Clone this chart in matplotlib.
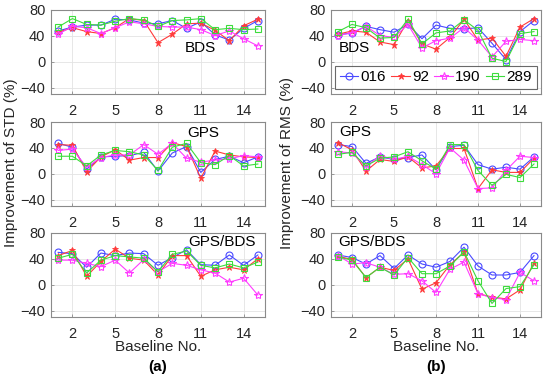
import matplotlib
matplotlib.use("Agg")
import matplotlib.pyplot as plt

plt.rcParams['font.family'] = ['Liberation Sans', 'DejaVu Sans']

baselines = list(range(1, 16))
series_names = ['016', '92', '190', '289']

# STD improvement (a)
std_bds_016 = [47, 53, 56, 56, 65, 64, 59, 58, 63, 51, 61, 41, 33, 51, 63]
std_bds_92 = [45, 52, 46, 43, 52, 66, 63, 29, 42, 58, 59, 48, 32, 55, 65]
std_bds_190 = [42, 54, 52, 43, 52, 61, 58, 54, 53, 53, 49, 40, 47, 35, 24]
std_bds_289 = [53, 66, 57, 56, 62, 66, 64, 54, 63, 64, 66, 49, 51, 49, 50]

std_gps_016 = [47, 41, 7, 26, 27, 28, 33, 4, 32, 42, 2, 22, 27, 17, 26]
std_gps_92 = [45, 44, 3, 26, 37, 21, 25, 25, 48, 42, -7, 35, 29, 26, 25]
std_gps_190 = [36, 38, 10, 25, 29, 29, 45, 30, 47, 24, 18, 21, 23, 28, 26]
std_gps_289 = [27, 27, 12, 29, 36, 34, 29, 5, 41, 47, 17, 14, 28, 12, 15]

std_gb_016 = [50, 48, 27, 49, 45, 49, 48, 30, 42, 54, 31, 30, 46, 30, 46]
std_gb_92 = [45, 53, 13, 36, 55, 41, 38, 15, 45, 45, 13, 23, 27, 23, 40]
std_gb_190 = [38, 38, 33, 28, 38, 18, 39, 20, 33, 30, 23, 18, 4, 10, -16]
std_gb_289 = [41, 47, 18, 38, 45, 43, 41, 20, 47, 52, 30, 26, 32, 26, 35]

# RMS improvement (b)
rms_bds_016 = [41, 44, 54, 49, 45, 57, 35, 56, 51, 50, 52, 28, 3, 46, 63]
rms_bds_92 = [42, 47, 45, 30, 26, 63, 27, 19, 37, 65, 33, 36, 8, 53, 66]
rms_bds_190 = [40, 44, 54, 40, 37, 57, 21, 32, 36, 52, 33, 7, 31, 34, 32]
rms_bds_289 = [46, 57, 52, 36, 37, 65, 27, 44, 47, 64, 48, 5, 0, 43, 46]

rms_gps_016 = [45, 42, 16, 26, 22, 25, 29, 6, 42, 44, 14, 7, 10, 7, 26]
rms_gps_92 = [48, 37, 4, 22, 19, 26, 9, 12, 39, 39, -23, 6, 2, 2, 24]
rms_gps_190 = [34, 32, 11, 28, 22, 27, 14, 0, 40, 21, -23, -22, 5, 27, 25]
rms_gps_289 = [30, 33, 12, 24, 26, 34, 20, 7, 45, 45, 5, -18, -1, -6, 15]

rms_gb_016 = [46, 42, 32, 45, 25, 46, 32, 27, 36, 58, 29, 15, 15, 19, 45]
rms_gb_92 = [44, 39, 11, 27, 22, 40, -7, 3, 31, 50, -14, -19, -22, -8, 34]
rms_gb_190 = [45, 32, 34, 27, 16, 17, 6, -12, 24, 35, -14, -20, -23, 19, 6]
rms_gb_289 = [43, 38, 11, 27, 15, 42, 17, 17, 29, 51, 6, -29, -6, -3, 31]

panel_titles = ['BDS', 'GPS', 'GPS/BDS']
xticks_vals = [2, 5, 8, 11, 14]
yticks_vals = [-40, 0, 40, 80]

left_data = [
    [std_bds_016, std_bds_92, std_bds_190, std_bds_289],
    [std_gps_016, std_gps_92, std_gps_190, std_gps_289],
    [std_gb_016, std_gb_92, std_gb_190, std_gb_289],
]
right_data = [
    [rms_bds_016, rms_bds_92, rms_bds_190, rms_bds_289],
    [rms_gps_016, rms_gps_92, rms_gps_190, rms_gps_289],
    [rms_gb_016, rms_gb_92, rms_gb_190, rms_gb_289],
]

styles = [
    dict(color='#4a4aff', marker='o', mfc='none', ms=5, mew=0.8),
    dict(color='#ff3a3a', marker='*', mfc='#ff3a3a', ms=4.5, mew=0.6),
    dict(color='#ff3cff', marker='*', mfc='none', ms=6, mew=0.8),
    dict(color='#3ddc3d', marker='s', mfc='none', ms=4.5, mew=0.8),
]

fig = plt.figure(figsize=(5.5, 3.8), dpi=100)

col_x = [(51, 265), (331, 541)]
row_y = [(9.5, 94), (122, 206), (233, 317)]
W, H = 550.0, 380.0

label_pos = {
    0: [(0.70, 0.54), (0.71, 0.87), (0.80, 0.89)],
    1: [(0.11, 0.54), (0.115, 0.88), (0.195, 0.89)],
}

tick_color = '#262626'
frame_color = '#8a8a8a'

axes = {}
for c, data in enumerate([left_data, right_data]):
    x0, x1 = col_x[c]
    for r in range(3):
        yt, yb = row_y[r]
        ax = fig.add_axes([x0 / W, 1 - yb / H, (x1 - x0) / W, (yb - yt) / H])
        axes[(c, r)] = ax
        for s, vals in enumerate(data[r]):
            ax.plot(baselines, vals, lw=0.8, label=series_names[s], **styles[s])
        ax.set_xlim(0.5, 15.5)
        ax.set_ylim(-50, 80)
        ax.set_xticks(xticks_vals)
        ax.set_yticks(yticks_vals)
        ax.grid(True, color='#e3e3e3', lw=0.6)
        ax.set_axisbelow(True)
        for sp in ax.spines.values():
            sp.set_color(frame_color)
            sp.set_linewidth(0.8)
        ax.tick_params(direction='in', length=2.5, width=0.6, color=frame_color,
                       labelsize=10.5, labelcolor=tick_color)
        ax.tick_params(axis='x', pad=7)
        ax.tick_params(axis='y', pad=4)
        px, py = label_pos[c][r]
        ax.text(px, py, panel_titles[r], transform=ax.transAxes, ha='center',
                va='center', fontsize=11, color='black')

leg = axes[(1, 0)].legend(loc='lower center', bbox_to_anchor=(0.5, 0.06), ncol=4,
                          fontsize=11, frameon=True, fancybox=False, handlelength=1.2,
                          handletextpad=0.15, columnspacing=0.35, borderpad=0.3,
                          borderaxespad=0.0)
leg.get_frame().set_edgecolor('#444444')
leg.get_frame().set_linewidth(0.8)

for c in range(2):
    x0, x1 = col_x[c]
    cx = (x0 + x1) / 2 / W
    fig.text(cx, 1 - 347 / H, 'Baseline No.', ha='center', va='center', fontsize=11,
             color=tick_color)
    fig.text(cx, 1 - 367 / H, '(a)' if c == 0 else '(b)', ha='center', va='center',
             fontsize=11, fontweight='bold', color='black')

fig.text(11 / W, 1 - 163 / H, 'Improvement of STD (%)', rotation=90, ha='center',
         va='center', fontsize=11, color=tick_color)
fig.text(287 / W, 1 - 163 / H, 'Improvement of RMS (%)', rotation=90, ha='center',
         va='center', fontsize=11, color=tick_color)

fig.savefig('out.png', dpi=100)
